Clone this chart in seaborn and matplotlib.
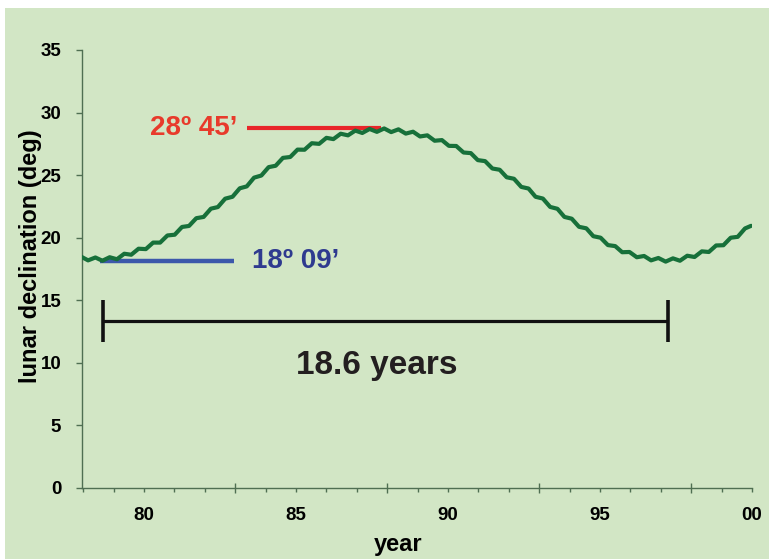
import matplotlib
matplotlib.use("Agg")
import matplotlib.pyplot as plt
import seaborn as sns
import pandas as pd
from matplotlib.patches import Rectangle

# lunar declination curve (peaks/troughs of the small wiggle)
years = [77.92, 78.16, 78.40, 78.63, 78.87, 79.11, 79.35, 79.58, 79.82, 80.06,
         80.30, 80.53, 80.77, 81.01, 81.25, 81.48, 81.72, 81.96, 82.20, 82.43,
         82.67, 82.91, 83.15, 83.38, 83.62, 83.86, 84.10, 84.33, 84.57, 84.81,
         85.05, 85.28, 85.52, 85.76, 86.00, 86.23, 86.47, 86.71, 86.95, 87.18,
         87.42, 87.66, 87.90, 88.13, 88.37, 88.61, 88.85, 89.08, 89.32, 89.56,
         89.80, 90.03, 90.27, 90.51, 90.75, 90.98, 91.22, 91.46, 91.70, 91.93,
         92.17, 92.41, 92.65, 92.88, 93.12, 93.36, 93.60, 93.83, 94.07, 94.31,
         94.55, 94.78, 95.02, 95.26, 95.50, 95.73, 95.97, 96.21, 96.45, 96.68,
         96.92, 97.16, 97.40, 97.63, 97.87, 98.11, 98.35, 98.58, 98.82, 99.06,
         99.30, 99.53, 99.77, 99.97]
declination = [18.50, 18.19, 18.42, 18.16, 18.44, 18.28, 18.72, 18.64, 19.12, 19.09,
               19.61, 19.61, 20.18, 20.24, 20.86, 20.94, 21.56, 21.66, 22.32, 22.45,
               23.12, 23.27, 23.95, 24.10, 24.80, 24.97, 25.64, 25.75, 26.38, 26.45,
               27.04, 27.03, 27.55, 27.50, 27.98, 27.88, 28.31, 28.18, 28.56, 28.37,
               28.69, 28.46, 28.73, 28.44, 28.66, 28.32, 28.47, 28.09, 28.18, 27.75,
               27.80, 27.34, 27.33, 26.81, 26.76, 26.20, 26.12, 25.53, 25.43, 24.83,
               24.71, 24.06, 23.93, 23.27, 23.13, 22.46, 22.31, 21.66, 21.52, 20.87,
               20.75, 20.12, 20.00, 19.41, 19.33, 18.84, 18.86, 18.44, 18.54, 18.19,
               18.38, 18.09, 18.35, 18.16, 18.56, 18.46, 18.91, 18.86, 19.38, 19.40,
               20.00, 20.07, 20.74, 20.95]

# annotations
max_decl = 28.75
max_span = [83.4, 87.78]
max_label = "28º 45’"
min_decl = 18.15
min_span = [78.55, 82.96]
min_label = "18º 09’"
period_span = [78.65, 97.25]
period_level = 13.35
period_caps = [11.65, 15.0]
period_label = "18.6 years"
period_label_pos = [87.66, 9.8]

year_ticks = [80, 85, 90, 95, 100]
year_labels = ["80", "85", "90", "95", "00"]
y_ticks = [0, 5, 10, 15, 20, 25, 30, 35]

df = pd.DataFrame({"year": years, "declination": declination})

sns.set_theme(style="ticks")
plt.rcParams["font.family"] = ["Liberation Sans", "DejaVu Sans"]
plt.rcParams["font.weight"] = "bold"

BG = "#d2e6c5"
SPINE = "#4f6f52"

fig = plt.figure(figsize=(7.69, 5.59), dpi=100, facecolor="white")
fig.patches.append(Rectangle((5 / 769, 0), 1, 551 / 559, transform=fig.transFigure,
                             facecolor=BG, edgecolor="none", zorder=-10))
ax = fig.add_axes([82 / 769, 71 / 559, 670 / 769, 438 / 559])
ax.set_facecolor("none")

ax.hlines(max_decl, max_span[0], max_span[1], color="#e8262a", lw=3.0, zorder=2)
ax.hlines(min_decl, min_span[0], min_span[1], color="#3c58ab", lw=3.2, zorder=2)
ax.text(max_span[0] - 0.33, max_decl, max_label, color="#e83a2b", fontsize=20,
        fontweight="bold", ha="right", va="center")
ax.text(min_span[1] + 0.6, min_decl, min_label, color="#2e3a8f", fontsize=20,
        fontweight="bold", ha="left", va="center")

sns.lineplot(data=df, x="year", y="declination", ax=ax, color="#17703a", lw=3.0,
             solid_joinstyle="round", solid_capstyle="round", zorder=3)

ax.hlines(period_level, period_span[0], period_span[1], color="#111111", lw=2.3)
ax.vlines(period_span, period_caps[0], period_caps[1], color="#111111", lw=2.6)
ax.text(period_label_pos[0], period_label_pos[1], period_label, color="#231f20",
        fontsize=24, fontweight="bold", ha="center", va="center")

ax.set_xlim(77.96, 100)
ax.set_ylim(0, 35)
for side in ["top", "right"]:
    ax.spines[side].set_visible(False)
for side in ["left", "bottom"]:
    ax.spines[side].set_color(SPINE)
    ax.spines[side].set_linewidth(1.0)

ax.set_xticks([83, 88, 93, 98])
ax.set_xticklabels([])
ax.set_xticks(list(range(78, 101)), minor=True)
ax.tick_params(axis="x", which="major", direction="inout", length=7, width=1, color=SPINE)
ax.tick_params(axis="x", which="minor", direction="out", length=3, width=1, color=SPINE)

ax.set_yticks(y_ticks)
ax.tick_params(axis="y", which="major", direction="out", length=4, width=1, color=SPINE,
               pad=11, labelsize=13.5, labelcolor="black")
for t in ax.get_yticklabels():
    t.set_fontweight("bold")

sec = ax.secondary_xaxis("bottom")
sec.set_xticks(year_ticks)
sec.set_xticklabels(year_labels)
sec.tick_params(length=0, pad=14, labelsize=13.5, labelcolor="black")
sec.spines["bottom"].set_visible(False)
for t in sec.get_xticklabels():
    t.set_fontweight("bold")

ax.set_xlabel("year", fontsize=17, fontweight="bold", color="black")
ax.set_ylabel("lunar declination (deg)", fontsize=17, fontweight="bold", color="black")
ax.xaxis.set_label_coords(0.472, -0.103)
ax.yaxis.set_label_coords(-0.06, 0.53)

fig.savefig("out.png", dpi=100, facecolor="white")
